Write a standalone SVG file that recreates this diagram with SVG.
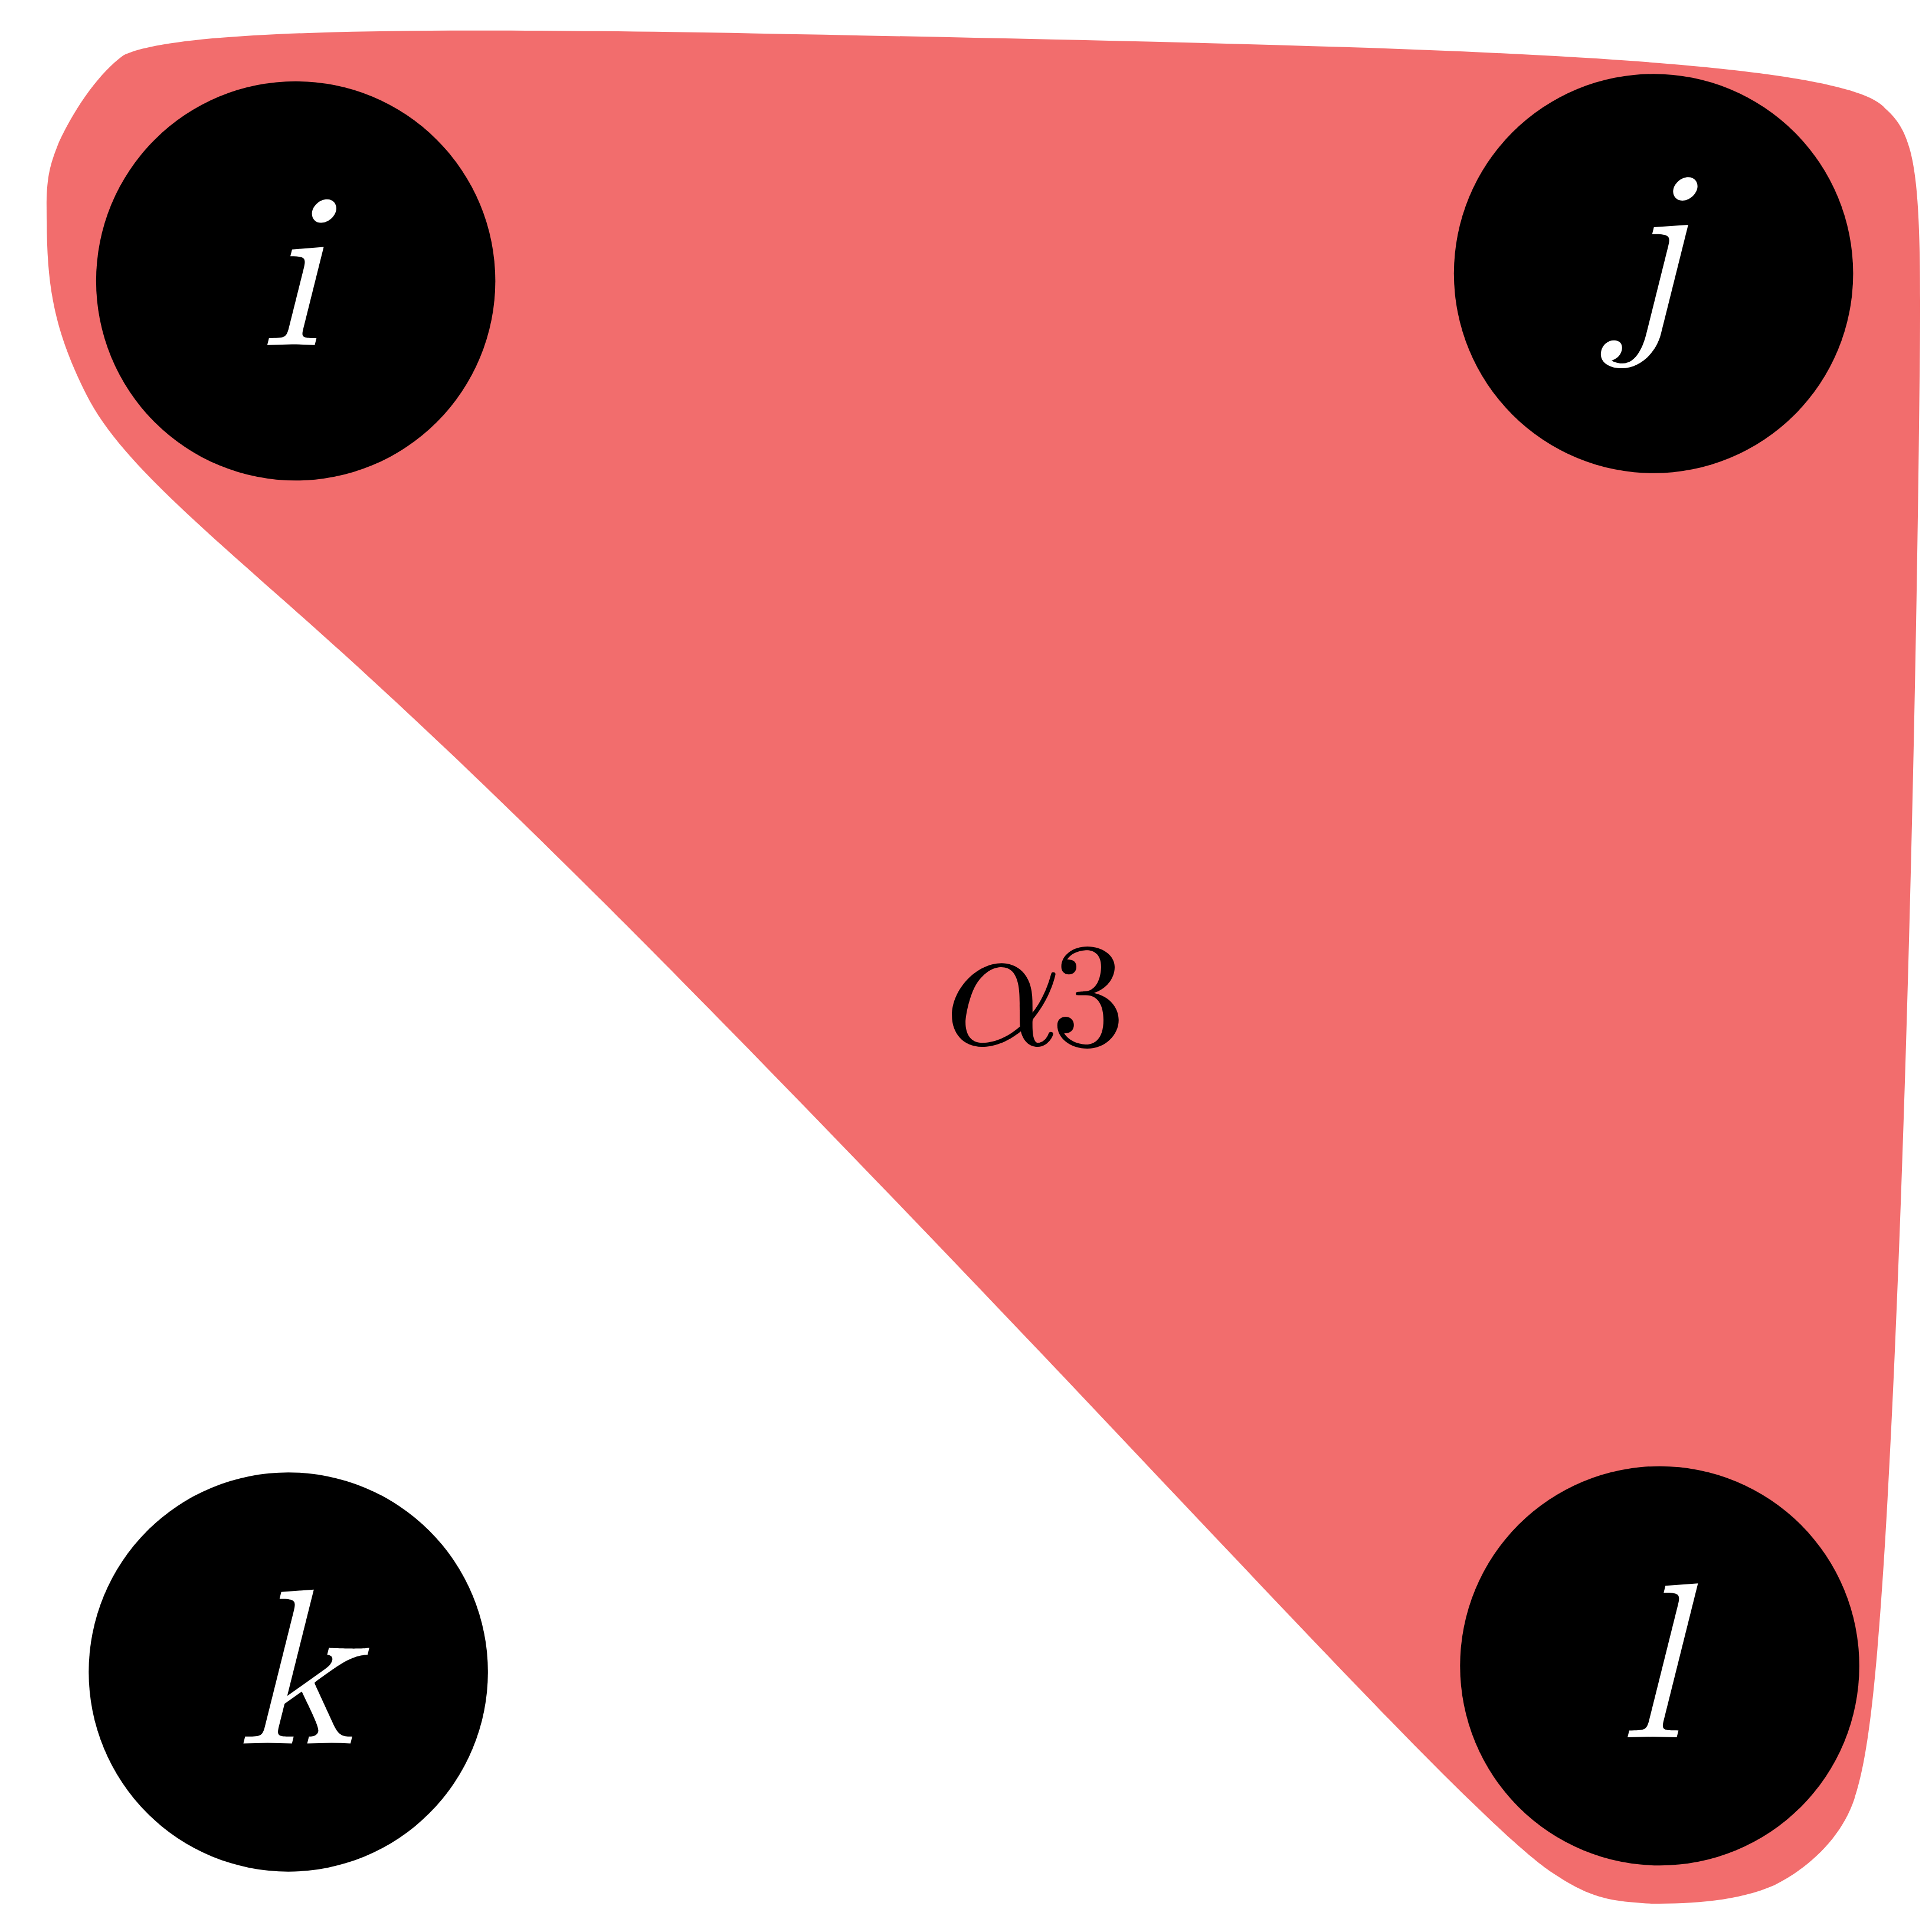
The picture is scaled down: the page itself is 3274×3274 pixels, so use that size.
<svg xmlns="http://www.w3.org/2000/svg" width="3274" height="3274" viewBox="0 0 3274 3274">
<style>
.n{fill:#000}
.t{font-family:"Latin Modern Math","DejaVu Serif","Liberation Serif",serif;font-style:italic;fill:#fff;text-anchor:middle}
</style>
<rect width="3274" height="3274" fill="#fff"/>
<g transform="scale(2.088)">
<g id="hyperedge">
<path fill="#f26d6d" d="M100,45 C160,15 520,25 900,33 C1200,40 1500,50 1530,88 C1555,110 1560,140 1558,300 C1555,600 1545,1000 1530,1250 C1522,1380 1515,1430 1505,1460 C1495,1490 1470,1515 1440,1530 C1410,1543 1375,1545 1340,1545 C1305,1543 1290,1540 1260,1520 C1200,1480 1000,1260 780,1030 C560,800 420,660 300,550 C180,440 100,380 70,320 C45,270 38,235 38,180 C37,145 40,135 48,115 C62,85 82,58 100,45 Z"/>
<text x="835" y="848" font-family="'Latin Modern Math','DejaVu Serif','Liberation Serif',serif" font-style="italic" font-size="150" text-anchor="middle" fill="#000">α<tspan font-style="normal" font-size="120">3</tspan></text>
</g>
<g id="node-i"><circle class="n" cx="240" cy="228" r="162"/><text class="t" x="236" y="280" font-size="180">i</text></g>
<g id="node-j"><circle class="n" cx="1342" cy="222" r="162"/><text class="t" x="1340" y="262" font-size="180">j</text></g>
<g id="node-k"><circle class="n" cx="234" cy="1357" r="162"/><text class="t" x="240" y="1415" font-size="180">k</text></g>
<g id="node-l"><circle class="n" cx="1347" cy="1352" r="162"/><text class="t" x="1340" y="1410" font-size="180">l</text></g>
<g id="connectors"/>
</g>
</svg>
